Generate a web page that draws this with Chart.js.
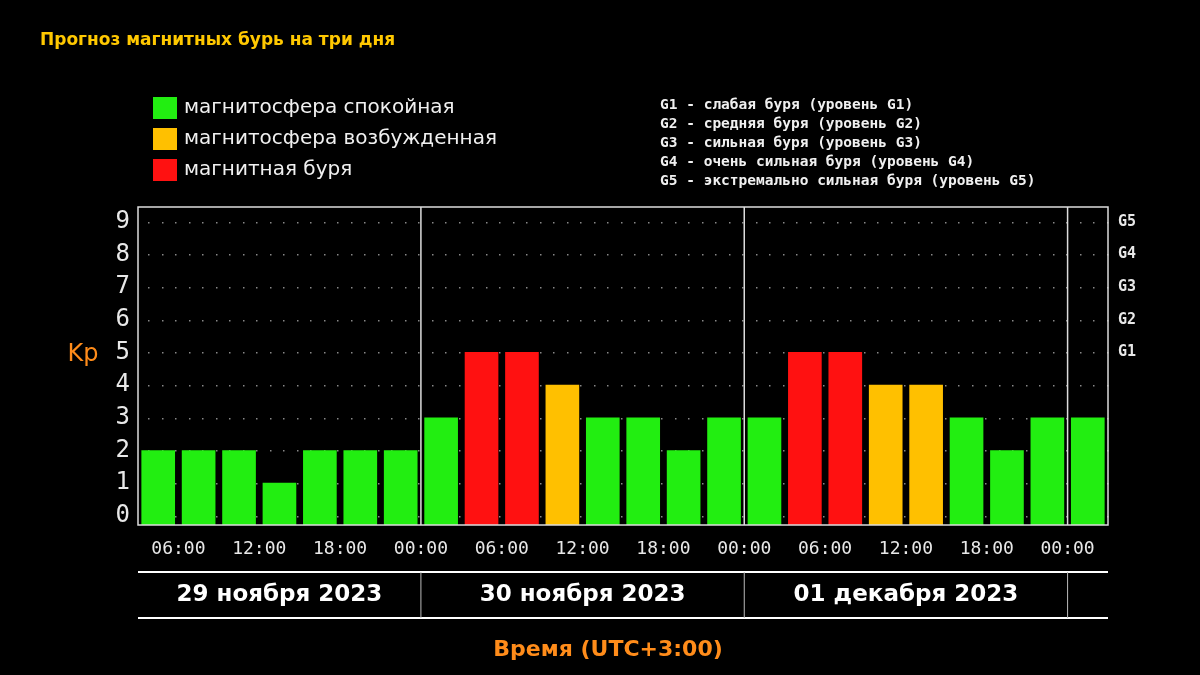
<!DOCTYPE html>
<html><head><meta charset="utf-8">
<script src="https://cdn.jsdelivr.net/npm/chart.js@4"></script>
<style>html,body{margin:0;background:#000;}#c{display:block}</style>
</head><body>
<canvas id="c" width="1200" height="675"></canvas>
<script>
const kpValues=[2,2,2,1,2,2,2, 3,5,5,4,3,3,2,3, 3,5,5,4,4,3,2,3, 3];
const timeLabels=["06:00","12:00","18:00","00:00","06:00","12:00","18:00","00:00","06:00","12:00","18:00","00:00"];
const dateLabels=["29 ноября 2023","30 ноября 2023","01 декабря 2023"];
const gLabels=["G1","G2","G3","G4","G5"];
const legendItems=[["магнитосфера спокойная","#22ee11"],["магнитосфера возбужденная","#ffc000"],["магнитная буря","#ff1111"]];
const gLegend=["G1 - слабая буря (уровень G1)","G2 - средняя буря (уровень G2)","G3 - сильная буря (уровень G3)","G4 - очень сильная буря (уровень G4)","G5 - экстремально сильная буря (уровень G5)"];
const yMin=-0.28;
const colorFor=v=>v>=5?"#ff1111":(v===4?"#ffc000":"#22ee11");
const pts=kpValues.map((v,i)=>({x:i+0.5,y:[yMin,v]}));
const extras={id:'extras',
 beforeDatasetsDraw(ch){const c=ch.ctx,y=ch.scales.y,a=ch.chartArea;
  c.save();c.fillStyle="#888";
  for(let k=0;k<=9;k++){const py=y.getPixelForValue(k);for(let px=a.left+10;px<a.right;px+=13.5)c.fillRect(Math.round(px),Math.round(py),1.5,1.5);}
  c.restore();},
 afterDatasetsDraw(ch){const c=ch.ctx,x=ch.scales.x,y=ch.scales.y,a=ch.chartArea;
  c.save();c.strokeStyle="#ddd";c.lineWidth=1.5;
  c.strokeRect(a.left,a.top,a.right-a.left,a.bottom-a.top);
  [7,15,23].forEach(v=>{const px=x.getPixelForValue(v);c.beginPath();c.moveTo(px,a.top);c.lineTo(px,a.bottom);c.stroke();});
  c.fillStyle="#e8e8e8";c.font="24px 'DejaVu Sans Mono'";c.textAlign="right";c.textBaseline="middle";
  for(let k=0;k<=9;k++)c.fillText(String(k),a.left-8,y.getPixelForValue(k));
  c.font="bold 15px 'DejaVu Sans Mono'";c.textAlign="left";
  gLabels.forEach((g,i)=>c.fillText(g,a.right+10,y.getPixelForValue(5+i)));
  c.fillStyle="#ff8c1a";c.font="24px 'DejaVu Sans'";c.textAlign="center";c.fillText("Kp",83,355);
  c.fillStyle="#e8e8e8";c.font="18px 'DejaVu Sans Mono'";
  timeLabels.forEach((t,i)=>c.fillText(t,x.getPixelForValue(1+2*i),549));
  c.strokeStyle="#fff";c.lineWidth=2;
  c.beginPath();c.moveTo(a.left,572);c.lineTo(a.right,572);c.moveTo(a.left,618);c.lineTo(a.right,618);c.stroke();
  c.lineWidth=1;c.strokeStyle="#bbb";
  [7,15,23].forEach(v=>{const px=x.getPixelForValue(v);c.beginPath();c.moveTo(px,572);c.lineTo(px,618);c.stroke();});
  c.fillStyle="#fff";c.font="bold 23px 'DejaVu Sans'";
  [[0,7],[7,15],[15,23]].forEach((r,i)=>c.fillText(dateLabels[i],(x.getPixelForValue(r[0])+x.getPixelForValue(r[1]))/2,595));
  c.fillStyle="#ff8c1a";c.font="bold 22px 'DejaVu Sans'";c.fillText("Время (UTC+3:00)",608,650);
  c.textAlign="left";c.fillStyle="#ffc800";c.font="bold 17px 'DejaVu Sans'";c.fillText("Прогноз магнитных бурь на три дня",40,41);
  legendItems.forEach((l,i)=>{const py=108+i*31;c.fillStyle=l[1];c.fillRect(153,py-11,24,22);c.fillStyle="#f0f0f0";c.font="20px 'DejaVu Sans'";c.fillText(l[0],184,py);});
  c.font="bold 14.5px 'DejaVu Sans Mono'";c.fillStyle="#f0f0f0";
  gLegend.forEach((t,i)=>c.fillText(t,660,105+i*19));
  c.restore();}};
new Chart(document.getElementById('c'),{type:'bar',
 data:{datasets:[{data:pts,backgroundColor:kpValues.map(colorFor),barThickness:33,grouped:false}]},
 options:{responsive:false,animation:false,
  layout:{padding:{left:138,right:92,top:207,bottom:150}},
  plugins:{legend:{display:false},tooltip:{enabled:false}},
  scales:{x:{type:'linear',min:0,max:24,offset:false,display:false},y:{min:yMin,max:9.45,display:false}}},
 plugins:[extras]});
</script></body></html>
